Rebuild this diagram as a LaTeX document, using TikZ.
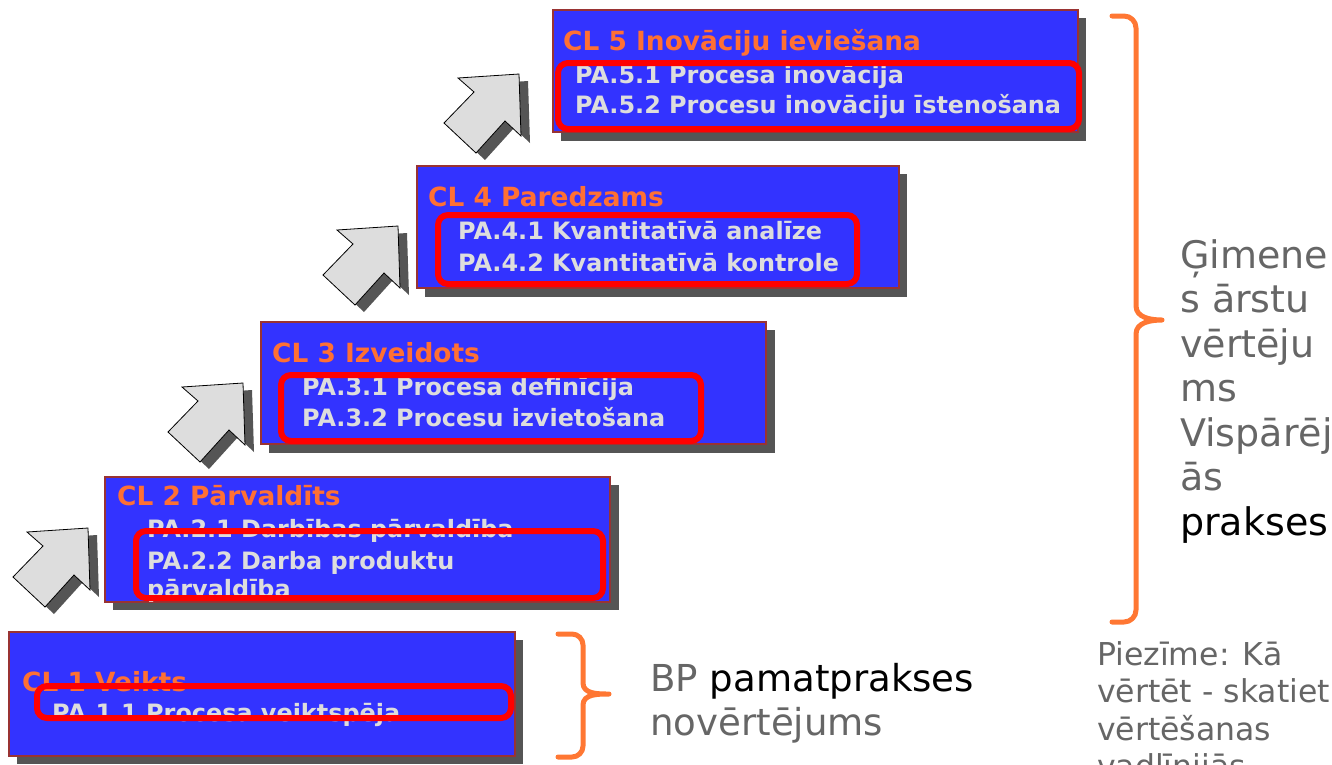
\documentclass[tikz,border=0pt]{standalone}
\usepackage{fontspec}
\setmainfont{DejaVu Sans}
\definecolor{boxblue}{HTML}{3333FF}
\definecolor{boxborder}{HTML}{993333}
\definecolor{shadowgray}{HTML}{555555}
\definecolor{titleorange}{HTML}{FF7033}
\definecolor{palight}{HTML}{DDDDDD}
\definecolor{framered}{HTML}{FF0000}
\definecolor{arrowgray}{HTML}{DDDDDD}
\definecolor{braceorange}{HTML}{FF7733}
\definecolor{graytext}{HTML}{666666}
\begin{document}
\begin{tikzpicture}[x=1pt,y=-1pt,
 clbox/.style={fill=boxblue,draw=boxborder,line width=2pt},
 cltitle/.style={anchor=base west,inner sep=0pt,text=titleorange,font=\fontsize{26.4}{31}\selectfont\bfseries},
 patext/.style={anchor=base west,inner sep=0pt,text=palight,font=\fontsize{23.9}{28}\selectfont\bfseries},
 redframe/.style={draw=framered,line width=6pt,rounded corners=10pt},
 arrowbody/.style={fill=arrowgray,draw=black,line width=0.8pt,line join=miter},
 bracestyle/.style={draw=braceorange,line width=5pt,line cap=round,line join=round},
 sidetext/.style={anchor=base west,inner sep=0pt,align=left,text=graytext}
]
\useasboundingbox (0,0) rectangle (1332,764);

% block arrows
\foreach \tx/\ty in {88/528,243/383,398/226,519/74}{
  \begin{scope}[shift={(\tx,\ty)}]
    \fill[shadowgray,shift={(9,7)}] (-61,4) -- (0,0) -- (2,62) -- (-14,47) -- (-43,79) -- (-75,49) -- (-45,18) -- cycle;
    \draw[arrowbody] (-61,4) -- (0,0) -- (2,62) -- (-14,47) -- (-43,79) -- (-75,49) -- (-45,18) -- cycle;
  \end{scope}
}

% CL1
\fill[shadowgray] (17,640) rectangle (523,764);
\draw[clbox] (9,632) rectangle (515,756);
\node[cltitle] (t1) at (22,691) {CL 1 Veikts};
\node[patext] (p11) at (52,721) {PA.1.1 Procesa veiktspēja};
\draw[redframe] (37,686) rectangle (511,718);

% CL2
\fill[shadowgray] (113,485) rectangle (619,610);
\draw[clbox] (105,477) rectangle (610,602);
\node[cltitle] (t2) at (117,505) {CL 2 Pārvaldīts};
\node[patext] (p21) at (147,537) {PA.2.1 Darbības pārvaldība};
\node[patext] (p22) at (147,569) {PA.2.2 Darba produktu};
\node[patext] (p22b) at (147,597) {pārvaldība};
\draw[redframe] (136,531) rectangle (603,598);

% CL3
\fill[shadowgray] (269,330) rectangle (775,453);
\draw[clbox] (261,322) rectangle (766,444);
\node[cltitle] (t3) at (272,362) {CL 3 Izveidots};
\node[patext] (p31) at (302,395) {PA.3.1 Procesa definīcija};
\node[patext] (p32) at (302,426) {PA.3.2 Procesu izvietošana};
\draw[redframe] (281,375) rectangle (701,441);

% CL4
\fill[shadowgray] (425,174) rectangle (907,297);
\draw[clbox] (417,166) rectangle (899,288);
\node[cltitle] (t4) at (428,206) {CL 4 Paredzams};
\node[patext] (p41) at (458,239) {PA.4.1 Kvantitatīvā analīze};
\node[patext] (p42) at (458,271) {PA.4.2 Kvantitatīvā kontrole};
\draw[redframe] (438,215) rectangle (857,284);

% CL5
\fill[shadowgray] (561,18) rectangle (1086,141);
\draw[clbox] (553,10) rectangle (1078,132);
\node[cltitle] (t5) at (563,50) {CL 5 Inovāciju ieviešana};
\node[patext] (p51) at (575,83) {PA.5.1 Procesa inovācija};
\node[patext] (p52) at (575,113) {PA.5.2 Procesu inovāciju īstenošana};
\draw[redframe] (558,63) rectangle (1079,129);

% braces
\draw[bracestyle] (1112,16) -- (1124,16) to[out=0,in=90] (1136,28) -- (1136,306)
  to[out=-90,in=180] (1162,320) to[out=180,in=90] (1136,334) -- (1136,610)
  to[out=-90,in=0] (1124,622) -- (1112,622);
\draw[bracestyle] (558,634) -- (572,634) to[out=0,in=90] (583,645) -- (583,683)
  to[out=-90,in=180] (609,694) to[out=180,in=90] (583,705) -- (583,746)
  to[out=-90,in=0] (572,757) -- (558,757);

% side texts (base anchor = last line)
\node[sidetext,font=\fontsize{38}{44.5}\selectfont] (gim) at (1180,535)
  {Ģimene\\s ārstu\\vērtēju\\ms\\Vispārēj\\ās\\{\color{black}prakses}};
\node[sidetext,font=\fontsize{37.1}{44}\selectfont] (bp) at (650,735)
  {BP {\color{black}pamatprakses}\\novērtējums};
\node[sidetext,font=\fontsize{31.5}{37.5}\selectfont] (note) at (1097,777.5)
  {Piezīme: Kā\\vērtēt - skatiet\\vērtēšanas\\vadlīnijās};
\end{tikzpicture}
\end{document}
